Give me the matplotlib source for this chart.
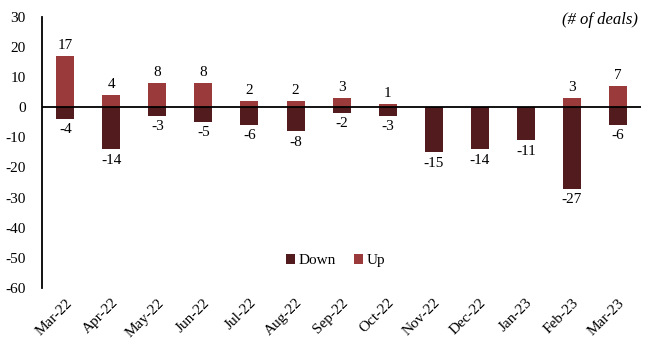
import matplotlib.pyplot as plt
import numpy as np

plt.rcParams['font.family'] = ['Liberation Serif', 'DejaVu Serif']
plt.rcParams['axes.unicode_minus'] = False

months = ["Mar-22", "Apr-22", "May-22", "Jun-22", "Jul-22", "Aug-22", "Sep-22",
          "Oct-22", "Nov-22", "Dec-22", "Jan-23", "Feb-23", "Mar-23"]
up = [17, 4, 8, 8, 2, 2, 3, 1, 0, 0, 0, 3, 7]
down = [-4, -14, -3, -5, -6, -8, -2, -3, -15, -14, -11, -27, -6]

up_color = "#9b3a3a"
down_color = "#521b1e"

fig = plt.figure(figsize=(6.5, 3.46), dpi=100)
ax = fig.add_axes([0.065, 0.168, 0.921, 0.783])

x = np.arange(len(months))
w = 0.39
ax.bar(x, down, width=w, color=down_color, label="Down", zorder=2)
ax.bar(x, up, width=w, color=up_color, label="Up", zorder=2)

# value labels; zero "up" months get none
for i in range(len(months)):
    if up[i] != 0:
        ax.annotate(str(up[i]), (x[i], up[i]), xytext=(0, 3), textcoords="offset points",
                    ha="center", va="bottom", fontsize=11)
    ax.annotate(str(down[i]), (x[i], down[i]), xytext=(0, -3), textcoords="offset points",
                ha="center", va="top", fontsize=11)

ax.axhline(0, color="black", linewidth=1.3, zorder=3)

ax.set_xlim(-0.5, len(months) - 0.5)
ax.set_ylim(-60, 30)
ax.set_yticks(range(-60, 31, 10))
ax.set_xticks(x)
ax.set_xticklabels(months, rotation=45, ha="right", rotation_mode="anchor")
ax.tick_params(axis="both", length=0, labelsize=11)
ax.tick_params(axis="y", pad=12)
ax.tick_params(axis="x", pad=6)

for s in ["top", "right", "bottom"]:
    ax.spines[s].set_visible(False)
ax.spines["left"].set_linewidth(1.3)

ax.text(0.995, 1.02, "(# of deals)", transform=ax.transAxes, ha="right", va="top",
        fontsize=12, style="italic")

ax.legend(loc="center", bbox_to_anchor=(0.49, 0.1), ncol=2, frameon=False,
          fontsize=11, handlelength=0.6, handleheight=0.6, handletextpad=0.2,
          columnspacing=1.2)

fig.savefig("out.png", dpi=100)
